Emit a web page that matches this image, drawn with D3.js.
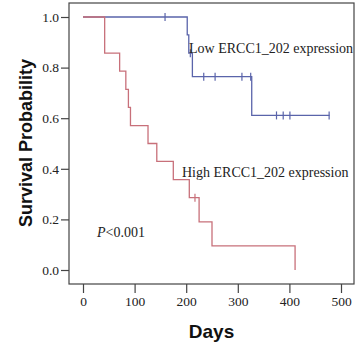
<!DOCTYPE html>
<html lang="en">
<head>
    <meta charset="UTF-8">
    <title>Survival Curve</title>
    <script src="https://d3js.org/d3.v7.min.js"></script>
    <style>
        body { margin: 0; background: #fff; }
    </style>
</head>
<body>
    <svg id="chart"></svg>

    <script>
        // High ERCC1_202 expression group (red)
        const highTimes = [0, 42, 71, 83, 88, 92, 126, 143, 175, 206, 225, 250, 411];
        const highSurv = [1, 0.857, 0.786, 0.714, 0.643, 0.571, 0.5, 0.429, 0.357, 0.286, 0.190, 0.095, 0];
        const highCensorTimes = [217];
        const highEnd = 411;

        // Low ERCC1_202 expression group (blue)
        const lowTimes = [0, 202, 205, 212, 327];
        const lowSurv = [1, 0.929, 0.857, 0.764, 0.611];
        const lowCensorTimes = [159, 208, 234, 256, 308, 325, 375, 388, 401, 477];
        const lowEnd = 478;

        const xTicks = [0, 100, 200, 300, 400, 500];
        const yTicks = [0.0, 0.2, 0.4, 0.6, 0.8, 1.0];

        const width = 361, height = 352;
        const frame = { left: 69, top: 3, right: 354, bottom: 284 };

        const svg = d3.select("#chart")
            .attr("width", width)
            .attr("height", height);

        const x = d3.scaleLinear().domain([0, 500]).range([83, 341]);
        const y = d3.scaleLinear().domain([0, 1]).range([270, 17]);

        // frame
        svg.append("rect")
            .attr("x", frame.left)
            .attr("y", frame.top)
            .attr("width", frame.right - frame.left)
            .attr("height", frame.bottom - frame.top)
            .attr("fill", "none")
            .attr("stroke", "#444")
            .attr("stroke-width", 1.2);

        // y axis
        const yAxis = svg.append("g")
            .attr("transform", `translate(${frame.left},0)`)
            .call(d3.axisLeft(y).tickValues(yTicks).tickSize(8).tickPadding(2).tickFormat(d3.format(".1f")));
        yAxis.select(".domain").remove();

        // x axis
        const xAxis = svg.append("g")
            .attr("transform", `translate(0,${frame.bottom})`)
            .call(d3.axisBottom(x).tickValues(xTicks).tickSize(9).tickPadding(3));
        xAxis.select(".domain").remove();

        svg.selectAll(".tick line").attr("stroke", "#444").attr("stroke-width", 1.2);
        svg.selectAll(".tick text")
            .attr("fill", "#222")
            .style("font-family", "'Liberation Serif', 'Times New Roman', serif")
            .style("font-size", "13.5px");

        // survival step curves
        function stepPoints(times, surv, end) {
            const pts = times.map((t, i) => [t, surv[i]]);
            pts.push([end, surv[surv.length - 1]]);
            return pts;
        }

        function survAt(times, surv, t) {
            let s = 1;
            times.forEach((tt, i) => { if (tt <= t) s = surv[i]; });
            return s;
        }

        const line = d3.line()
            .x(d => x(d[0]))
            .y(d => y(d[1]))
            .curve(d3.curveStepAfter);

        const groups = [
            { times: lowTimes, surv: lowSurv, end: lowEnd, censor: lowCensorTimes, color: "#5a64aa" },
            { times: highTimes, surv: highSurv, end: highEnd, censor: highCensorTimes, color: "#c8707a" }
        ];

        groups.forEach(gr => {
            svg.append("path")
                .datum(stepPoints(gr.times, gr.surv, gr.end))
                .attr("fill", "none")
                .attr("stroke", gr.color)
                .attr("stroke-width", 1.3)
                .attr("d", line);

            svg.selectAll(null)
                .data(gr.censor)
                .enter()
                .append("line")
                .attr("x1", d => x(d))
                .attr("x2", d => x(d))
                .attr("y1", d => y(survAt(gr.times, gr.surv, d)) - 4)
                .attr("y2", d => y(survAt(gr.times, gr.surv, d)) + 4)
                .attr("stroke", gr.color)
                .attr("stroke-width", 1.2);
        });

        // labels
        const serif = "'Liberation Serif', 'Times New Roman', serif";
        svg.append("text")
            .attr("x", 189).attr("y", 53)
            .style("font-family", serif).style("font-size", "14px").attr("fill", "#222")
            .text("Low ERCC1_202 expression");

        svg.append("text")
            .attr("x", 182).attr("y", 177)
            .style("font-family", serif).style("font-size", "14px").attr("fill", "#222")
            .text("High ERCC1_202 expression");

        const pText = svg.append("text")
            .attr("x", 97).attr("y", 237)
            .style("font-family", serif).style("font-size", "14px").attr("fill", "#222");
        pText.append("tspan").style("font-style", "italic").text("P");
        pText.append("tspan").text("<0.001");

        // axis titles
        svg.append("text")
            .attr("transform", "translate(32,143) rotate(-90)")
            .attr("text-anchor", "middle")
            .style("font-family", "'Liberation Sans', Arial, sans-serif")
            .style("font-size", "18px")
            .style("font-weight", "bold")
            .attr("fill", "#111")
            .text("Survival Probability");

        svg.append("text")
            .attr("x", 211.5).attr("y", 338)
            .attr("text-anchor", "middle")
            .style("font-family", "'Liberation Sans', Arial, sans-serif")
            .style("font-size", "19px")
            .style("font-weight", "bold")
            .attr("fill", "#111")
            .text("Days");
    </script>
</body>
</html>
